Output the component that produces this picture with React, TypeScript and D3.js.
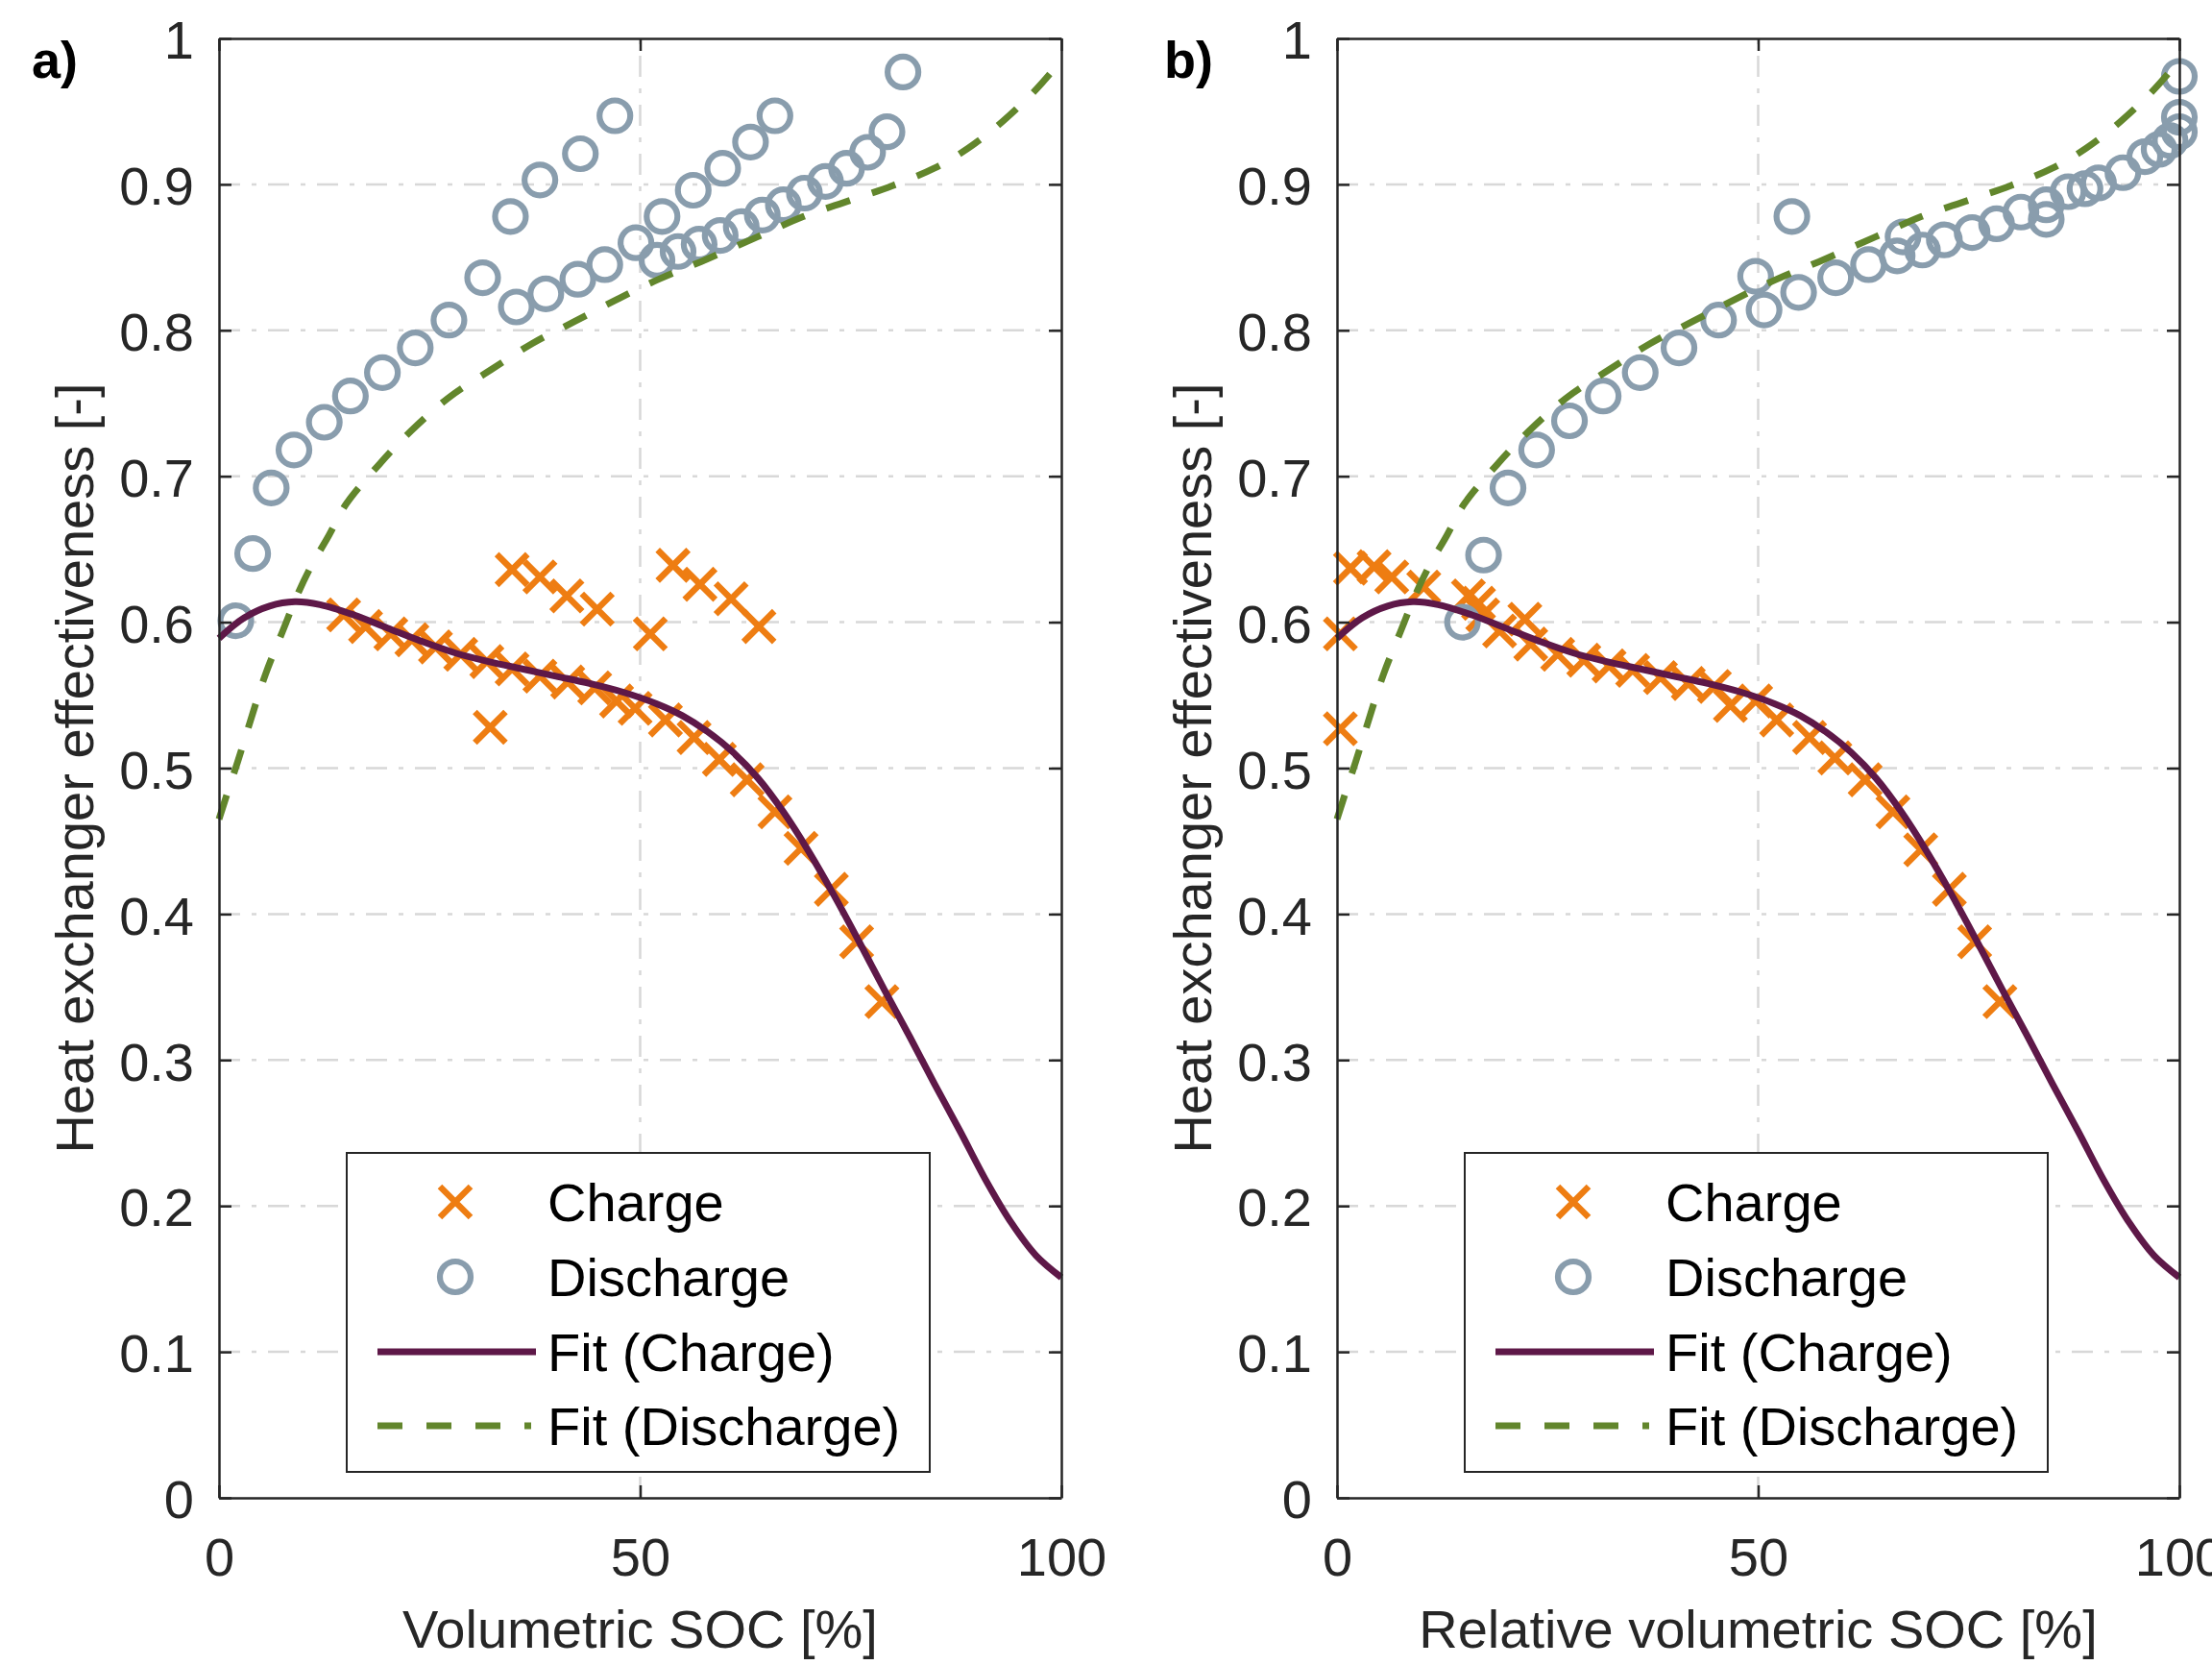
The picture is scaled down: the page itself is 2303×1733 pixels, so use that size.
import React, { useEffect, useRef } from 'react';
import * as d3 from 'd3';

const xTicks = [0, 50, 100];
const yTicks = [0, 0.1, 0.2, 0.3, 0.4, 0.5, 0.6, 0.7, 0.8, 0.9, 1];

// panel a) measured charge points (volumetric SOC, effectiveness)
const socChargeA = [14.8, 17.4, 20.4, 22.9, 25.7, 28.7, 31.8, 34.8, 38.1, 41.4, 44.6, 47.2, 49.4, 53.0, 56.4, 59.4, 62.7, 66.0, 69.1, 72.7, 75.7, 78.7,
  34.8, 38.1, 41.3, 44.9, 53.9, 57.1, 60.8, 64.1, 51.2, 32.2];
const effChargeA = [0.605, 0.597, 0.592, 0.588, 0.583, 0.578, 0.573, 0.568, 0.563, 0.559, 0.555, 0.546, 0.541, 0.533, 0.521, 0.506, 0.492, 0.470, 0.445, 0.417, 0.381, 0.340,
  0.636, 0.631, 0.618, 0.609, 0.639, 0.626, 0.616, 0.597, 0.592, 0.528];

// panel a) measured discharge points
const socDischargeA = [2.0, 4.0, 6.2, 8.9, 12.5, 15.6, 19.4, 23.3, 27.3, 31.3, 34.6, 38.1, 42.9, 47.0,
  35.3, 38.8, 42.6, 45.8, 49.5, 52.6, 56.3, 59.8, 63.1, 66.0,
  52.0, 54.5, 57.0, 59.5, 62.0, 64.5, 67.0, 69.5, 72.0, 74.5, 77.0, 79.3, 81.2];
const effDischargeA = [0.601, 0.647, 0.692, 0.718, 0.737, 0.755, 0.771, 0.788, 0.807, 0.836, 0.878, 0.903, 0.921, 0.947,
  0.816, 0.825, 0.835, 0.845, 0.860, 0.878, 0.896, 0.911, 0.929, 0.947,
  0.848, 0.854, 0.859, 0.865, 0.871, 0.879, 0.886, 0.894, 0.902, 0.911, 0.922, 0.936, 0.977];

// panel b) measured charge points (relative volumetric SOC)
const socChargeB = [0.4, 0.4, 1.6, 4.4, 6.5, 10.3, 15.6, 16.8, 17.3, 19.3, 22.3, 23.0, 26.2, 29.3, 32.3, 35.1, 38.4, 41.7, 44.8, 46.7, 49.7, 52.2, 56.1, 59.1, 62.7, 66.0, 69.3, 72.7, 75.7, 78.7];
const effChargeB = [0.592, 0.527, 0.637, 0.638, 0.631, 0.624, 0.618, 0.613, 0.605, 0.594, 0.602, 0.585, 0.578, 0.574, 0.570, 0.567, 0.562, 0.558, 0.556, 0.543, 0.546, 0.533, 0.521, 0.507, 0.492, 0.470, 0.444, 0.417, 0.381, 0.340];

// panel b) measured discharge points
const socDischargeB = [14.9, 17.4, 20.3, 23.7, 27.6, 31.6, 36.0, 40.6, 45.3, 49.7, 50.7, 54.0, 54.8, 59.2, 63.1, 66.5, 67.2, 69.5, 72.1, 75.4, 78.3, 81.2, 84.2, 84.2, 86.8, 88.8, 90.4, 93.3, 95.9, 97.6, 98.9, 100, 100, 100];
const effDischargeB = [0.600, 0.646, 0.692, 0.718, 0.738, 0.755, 0.771, 0.788, 0.807, 0.837, 0.814, 0.878, 0.826, 0.836, 0.845, 0.851, 0.864, 0.855, 0.862, 0.867, 0.873, 0.881, 0.876, 0.886, 0.895, 0.897, 0.901, 0.908, 0.919, 0.924, 0.930, 0.936, 0.946, 0.974];

// fitted curves (same in both panels)
const fitChargeSoc = [0, 3, 6, 9, 12, 16, 20, 24, 28, 32, 36, 40, 44, 48, 52, 55, 58, 61, 64, 67, 70, 73, 76, 79, 82, 85, 88, 91, 94, 97, 100];
const fitChargeEff = [0.589, 0.603, 0.611, 0.614, 0.612, 0.605, 0.596, 0.587, 0.579, 0.573, 0.568, 0.563, 0.558, 0.552, 0.544, 0.536, 0.525, 0.511, 0.493, 0.470, 0.443, 0.413, 0.381, 0.348, 0.316, 0.283, 0.251, 0.218, 0.189, 0.166, 0.151];
const fitDischargeSoc = [0, 1, 2.2, 3.6, 5.5, 7.5, 9.4, 11, 13, 15.1, 19, 22.8, 27.3, 32.3, 37.2, 42.2, 47.2, 52.2, 57.2, 63.9, 69.4, 74.9, 79.9, 84.9, 89, 93, 97, 100];
const fitDischargeEff = [0.465, 0.483, 0.504, 0.530, 0.564, 0.593, 0.620, 0.639, 0.659, 0.681, 0.708, 0.731, 0.754, 0.773, 0.791, 0.806, 0.821, 0.835, 0.847, 0.864, 0.878, 0.889, 0.899, 0.911, 0.925, 0.943, 0.965, 0.985];

const legendLabels = ['Charge', 'Discharge', 'Fit (Charge)', 'Fit (Discharge)'];

const FONT = '"Liberation Sans", Arial, Helvetica, sans-serif';
const FS = 56;
const C_CHARGE = '#ee7d12';
const C_DISCHARGE = '#899dad';
const C_FITCH = '#5e1848';
const C_FITDIS = '#62862c';
const C_AXIS = '#262626';

const panels = [
  { left: 228, tag: 'a)', tagX: 33, yTitleX: 97, xTitle: 'Volumetric SOC [%]',
    cs: socChargeA, ce: effChargeA, ds: socDischargeA, de: effDischargeA },
  { left: 1392, tag: 'b)', tagX: 1212, yTitleX: 1261, xTitle: 'Relative volumetric SOC [%]',
    cs: socChargeB, ce: effChargeB, ds: socDischargeB, de: effDischargeB },
];

const W = 877, TOP = 40, BOTTOM = 1559;
const XH = 16, XSW = 6.5, CR = 16, CSW = 6.2, LW = 7;

function styleAxis(sel, labels) {
  sel.select('.domain').attr('stroke', C_AXIS).attr('stroke-width', 2.5);
  sel.selectAll('.tick line').attr('stroke', C_AXIS).attr('stroke-width', 2.5);
  sel.attr('font-family', FONT).attr('font-size', FS);
  sel.selectAll('.tick text').attr('fill', C_AXIS);
  if (!labels) sel.selectAll('.tick text').remove();
}

function crossPath(cx, cy, h) {
  return `M${cx - h},${cy - h}L${cx + h},${cy + h}M${cx - h},${cy + h}L${cx + h},${cy - h}`;
}

function drawPanel(svg, p) {
  const x = d3.scaleLinear().domain([0, 100]).range([p.left, p.left + W]);
  const y = d3.scaleLinear().domain([0, 1]).range([BOTTOM, TOP]);
  const g = svg.append('g');

  // grid
  const grid = g.append('g').attr('stroke', '#d8d8d8').attr('stroke-width', 2.5).attr('stroke-dasharray', '22,12,5,12');
  grid.selectAll('.gx').data(xTicks.filter(t => t > 0 && t < 100)).join('line')
    .attr('x1', d => x(d)).attr('x2', d => x(d)).attr('y1', y(0)).attr('y2', y(1));
  grid.selectAll('.gy').data(yTicks.filter(t => t > 0 && t < 1)).join('line')
    .attr('x1', x(0)).attr('x2', x(100)).attr('y1', d => y(d)).attr('y2', d => y(d));

  // charge markers
  g.append('g').selectAll('path').data(p.cs.map((s, i) => [s, p.ce[i]])).join('path')
    .attr('d', d => crossPath(x(d[0]), y(d[1]), XH))
    .attr('stroke', C_CHARGE).attr('stroke-width', XSW).attr('fill', 'none');

  // discharge markers
  g.append('g').selectAll('circle').data(p.ds.map((s, i) => [s, p.de[i]])).join('circle')
    .attr('cx', d => x(d[0])).attr('cy', d => y(d[1])).attr('r', CR)
    .attr('stroke', C_DISCHARGE).attr('stroke-width', CSW).attr('fill', 'none');

  const line = d3.line().x(d => x(d[0])).y(d => y(d[1])).curve(d3.curveCatmullRom.alpha(0.5));
  g.append('path').datum(fitChargeSoc.map((s, i) => [s, fitChargeEff[i]]))
    .attr('d', line).attr('fill', 'none').attr('stroke', C_FITCH).attr('stroke-width', LW);
  g.append('path').datum(fitDischargeSoc.map((s, i) => [s, fitDischargeEff[i]]))
    .attr('d', line).attr('fill', 'none').attr('stroke', C_FITDIS).attr('stroke-width', LW)
    .attr('stroke-dasharray', '26,24');

  // axes (box with inward ticks)
  const fmtY = d => String(+(+d).toFixed(1));
  g.append('g').attr('transform', `translate(0,${BOTTOM})`)
    .call(d3.axisBottom(x).tickValues(xTicks).tickSizeInner(-13).tickSizeOuter(0).tickPadding(41).tickFormat(d3.format('d')))
    .call(s => styleAxis(s, true));
  g.append('g').attr('transform', `translate(0,${TOP})`)
    .call(d3.axisTop(x).tickValues(xTicks).tickSizeInner(-13).tickSizeOuter(0))
    .call(s => styleAxis(s, false));
  g.append('g').attr('transform', `translate(${p.left},0)`)
    .call(d3.axisLeft(y).tickValues(yTicks).tickSizeInner(-13).tickSizeOuter(0).tickPadding(26).tickFormat(fmtY))
    .call(s => styleAxis(s, true))
    .call(s => s.selectAll('.tick text').attr('dy', '0.37em'));
  g.append('g').attr('transform', `translate(${p.left + W},0)`)
    .call(d3.axisRight(y).tickValues(yTicks).tickSizeInner(-13).tickSizeOuter(0))
    .call(s => styleAxis(s, false));

  // titles
  g.append('text').attr('x', p.left + W / 2).attr('y', 1715).attr('text-anchor', 'middle')
    .attr('font-family', FONT).attr('font-size', FS).attr('fill', C_AXIS).text(p.xTitle);
  g.append('text').attr('transform', `translate(${p.yTitleX},${(TOP + BOTTOM) / 2}) rotate(-90)`)
    .attr('text-anchor', 'middle').attr('font-family', FONT).attr('font-size', FS).attr('fill', C_AXIS)
    .text('Heat exchanger effectiveness [-]');
  g.append('text').attr('x', p.tagX).attr('y', 81).attr('font-family', FONT).attr('font-size', 54)
    .attr('font-weight', 'bold').attr('fill', '#000').text(p.tag);

  // legend
  const lx = p.left + 133;
  const lg = g.append('g');
  lg.append('rect').attr('x', lx).attr('y', 1200).attr('width', 607).attr('height', 332)
    .attr('fill', '#fff').attr('stroke', C_AXIS).attr('stroke-width', 2);
  const rows = [1251, 1329, 1407, 1484];
  const mx = lx + 113;
  lg.append('path').attr('d', crossPath(mx, rows[0], XH))
    .attr('stroke', C_CHARGE).attr('stroke-width', XSW);
  lg.append('circle').attr('cx', mx).attr('cy', rows[1]).attr('r', CR)
    .attr('stroke', C_DISCHARGE).attr('stroke-width', CSW).attr('fill', 'none');
  lg.append('line').attr('x1', lx + 32).attr('x2', lx + 197).attr('y1', rows[2]).attr('y2', rows[2])
    .attr('stroke', C_FITCH).attr('stroke-width', LW);
  lg.append('line').attr('x1', lx + 32).attr('x2', lx + 192).attr('y1', rows[3]).attr('y2', rows[3])
    .attr('stroke', C_FITDIS).attr('stroke-width', LW).attr('stroke-dasharray', '26,25');
  lg.selectAll('.lt').data(legendLabels).join('text')
    .attr('x', lx + 209).attr('y', (d, i) => rows[i] + 20)
    .attr('font-family', FONT).attr('font-size', FS).attr('fill', '#000').text(d => d);
}

export default function App() {
  const ref = useRef(null);
  useEffect(() => {
    const svg = d3.select(ref.current);
    svg.selectAll('*').remove();
    svg.append('rect').attr('width', 2303).attr('height', 1733).attr('fill', '#fff');
    panels.forEach(p => drawPanel(svg, p));
  }, []);
  return (
    <svg ref={ref} width={2303} height={1733}
      style={{ position: 'absolute', left: 0, top: 0, display: 'block' }} />
  );
}
